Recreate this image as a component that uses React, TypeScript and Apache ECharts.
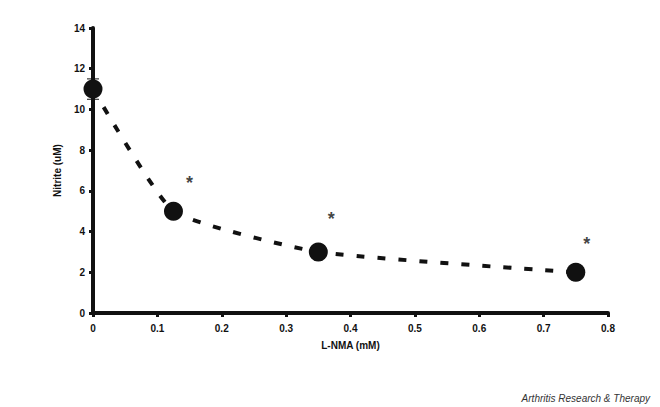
import React, { useEffect, useRef } from "react";
import * as echarts from "echarts";

const xValues = [0, 0.125, 0.35, 0.75];
const yValues = [11, 5, 3, 2];
const errLow = [10.5, 5, 3, 2];
const errHigh = [11.5, 5, 3, 2];
const starPoints = [
  [0.15, 6.4],
  [0.37, 4.6],
  [0.767, 3.4],
];
const xTicks = [0, 0.1, 0.2, 0.3, 0.4, 0.5, 0.6, 0.7, 0.8];
const yTicks = [0, 2, 4, 6, 8, 10, 12, 14];

export default function App() {
  const ref = useRef<HTMLDivElement>(null);
  useEffect(() => {
    if (!ref.current) return;
    const chart = echarts.init(ref.current, undefined, { renderer: "svg" });
    const font = "Liberation Sans, Arial, sans-serif";
    const pts = xValues.map((x, i) => [x, yValues[i]]);
    chart.setOption({
      animation: false,
      backgroundColor: "#ffffff",
      grid: { left: 93, right: 52, top: 28, bottom: 94 },
      xAxis: {
        type: "value",
        min: 0,
        max: 0.8,
        interval: 0.1,
        name: "L-NMA (mM)",
        nameLocation: "middle",
        nameGap: 27,
        nameTextStyle: { fontFamily: font, fontWeight: "bold", fontSize: 10, color: "#111" },
        axisLine: { lineStyle: { color: "#111", width: 4 } },
        axisTick: { show: true, length: 4, lineStyle: { color: "#111", width: 3 } },
        axisLabel: {
          fontFamily: font,
          fontWeight: "bold",
          fontSize: 10,
          color: "#111",
          margin: 10,
          formatter: (v: number) => {
            const t = xTicks.find((k) => Math.abs(k - v) < 1e-6);
            return t === undefined ? "" : String(t);
          },
        },
        splitLine: { show: false },
      },
      yAxis: {
        type: "value",
        min: 0,
        max: 14,
        interval: 2,
        name: "Nitrite (uM)",
        nameLocation: "middle",
        nameGap: 30,
        nameTextStyle: { fontFamily: font, fontWeight: "bold", fontSize: 10, color: "#111" },
        axisLine: { lineStyle: { color: "#111", width: 4 } },
        axisTick: { show: true, length: 4, lineStyle: { color: "#111", width: 3 } },
        axisLabel: {
          fontFamily: font,
          fontWeight: "bold",
          fontSize: 10,
          color: "#111",
          margin: 8,
          formatter: (v: number) => (yTicks.includes(v) ? String(v) : ""),
        },
        splitLine: { show: false },
      },
      series: [
        {
          type: "line",
          data: pts,
          smooth: 0.15,
          showSymbol: false,
          lineStyle: { color: "#111", width: 4, type: [8, 13] },
          z: 2,
        },
        {
          type: "custom",
          z: 3,
          renderItem: (params: any, api: any) => {
            const x = api.value(0);
            const lo = api.coord([x, api.value(1)]);
            const hi = api.coord([x, api.value(2)]);
            if (Math.abs(lo[1] - hi[1]) < 1) return null;
            const style = { stroke: "#111", lineWidth: 1 };
            return {
              type: "group",
              children: [
                { type: "line", shape: { x1: lo[0], y1: lo[1], x2: hi[0], y2: hi[1] }, style },
                { type: "line", shape: { x1: lo[0] - 6, y1: lo[1], x2: lo[0] + 6, y2: lo[1] }, style },
                { type: "line", shape: { x1: hi[0] - 6, y1: hi[1], x2: hi[0] + 6, y2: hi[1] }, style },
              ],
            };
          },
          data: xValues.map((x, i) => [x, errLow[i], errHigh[i]]),
        },
        {
          type: "scatter",
          data: pts,
          symbol: "circle",
          symbolSize: 19,
          itemStyle: { color: "#111", opacity: 1 },
          z: 4,
        },
        {
          type: "scatter",
          data: starPoints,
          symbolSize: 1,
          itemStyle: { color: "transparent" },
          label: {
            show: true,
            position: "inside",
            formatter: "*",
            fontFamily: font,
            fontWeight: "bold",
            fontSize: 18,
            color: "#111",
          },
          z: 5,
        },
      ],
      graphic: [
        {
          type: "text",
          right: 10,
          bottom: 4,
          style: {
            text: "Arthritis Research & Therapy",
            fontFamily: font,
            fontStyle: "italic",
            fontSize: 10,
            fill: "#333",
          },
        },
      ],
    });
    return () => chart.dispose();
  }, []);
  return (
    <div
      ref={ref}
      style={{ position: "absolute", left: 0, top: 0, width: 660, height: 407 }}
    />
  );
}
